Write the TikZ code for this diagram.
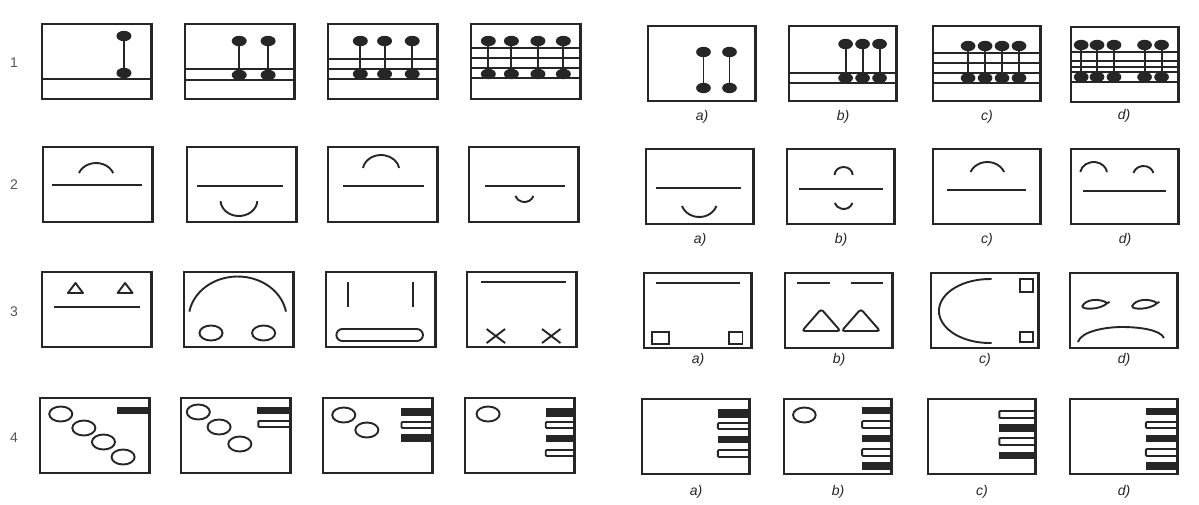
\documentclass[tikz,border=0pt]{standalone}
\usepackage{fontspec}
\setmainfont{Liberation Sans}
\definecolor{ink}{HTML}{262626}
\definecolor{numc}{HTML}{555555}
\tikzset{
  boxline/.style={draw=ink, line width=2.3pt},
  inl/.style={draw=ink, line width=1.9pt},
  lab/.style={font=\fontsize{14}{16}\selectfont\itshape, text=ink, inner sep=0pt},
  rownum/.style={font=\fontsize{14}{16}\selectfont, text=numc, inner sep=0pt},
  boxL/.style={x=1.154pt},
  boxR/.style={x=1.132pt},
}
\newcommand\frm{\draw[boxline] (0,0) rectangle (95,75);}
\newcommand\fullline[1]{\draw[inl] (0,#1) -- (95,#1);}
\newcommand\pinstem[3]{\draw[inl] (#1,#2) -- (#1,#3);
  \fill[ink] (#1,#2) ellipse[x radius=6.5, y radius=5.2];
  \fill[ink] (#1,#3) ellipse[x radius=6.5, y radius=5.2];}
\newcommand\arcat[5]{\draw[inl] ([shift={(#1,#2)}]#4:#3) arc[start angle=#4, end angle=#5, radius=#3];}
\newcommand\fbar[3]{\fill[ink] (#1,#2) rectangle (95,#3);}
\newcommand\ebar[3]{\draw[inl, rounded corners=1pt] (95,#2) -- (#1,#2) -- (#1,#3) -- (95,#3);}
\newcommand\ringat[2]{\draw[inl] (#1,#2) ellipse[x radius=10, y radius=7.5];}
\begin{document}
\begin{tikzpicture}[x=1pt,y=-1pt]
\useasboundingbox (0,0) rectangle (1199,504);
\fill[white] (0,0) rectangle (1199,504);

% row numbers
\node[rownum] (n1) at (14,63) {1};
\node[rownum] (n2) at (14,185) {2};
\node[rownum] (n3) at (14,312) {3};
\node[rownum] (n4) at (14,438) {4};

% ---------- ROW 1 ----------
\begin{scope}[shift={(42,24)},boxL]
 \fullline{55}
 \pinstem{71}{12}{49}
 \frm
\end{scope}
\begin{scope}[shift={(185,24)},boxL]
 \fullline{45}\fullline{56}
 \pinstem{47}{17}{51}\pinstem{72}{17}{51}
 \frm
\end{scope}
\begin{scope}[shift={(328,24)},boxL]
 \fullline{35}\fullline{45}\fullline{55}
 \pinstem{28}{17}{50}\pinstem{49}{17}{50}\pinstem{73}{17}{50}
 \frm
\end{scope}
\begin{scope}[shift={(471,24)},boxL]
 \fullline{24}\fullline{34}\fullline{44}\fullline{54}
 \pinstem{15}{17}{50}\pinstem{35}{17}{50}\pinstem{58}{17}{50}\pinstem{80}{17}{50}
 \frm
\end{scope}
\begin{scope}[shift={(648,26)},boxR]
 \pinstem{49}{26}{62}\pinstem{72}{26}{62}
 \frm
\end{scope}
\begin{scope}[shift={(789,26)},boxR]
 \fullline{47}\fullline{57}
 \pinstem{50}{18}{52}\pinstem{65}{18}{52}\pinstem{80}{18}{52}
 \frm
\end{scope}
\begin{scope}[shift={(933,26)},boxR]
 \fullline{27}\fullline{37}\fullline{47}\fullline{57}
 \pinstem{31}{20}{52}\pinstem{46}{20}{52}\pinstem{61}{20}{52}\pinstem{76}{20}{52}
 \frm
\end{scope}
\begin{scope}[shift={(1071,27)},boxR]
 \fullline{25}\fullline{34}\fullline{40}\fullline{45}\fullline{55}
 \pinstem{9}{18}{50}\pinstem{23}{18}{50}\pinstem{38}{18}{50}\pinstem{65}{18}{50}\pinstem{80}{18}{50}
 \frm
\end{scope}
\node[lab] (la1) at (702,117) {a)};
\node[lab] (lb1) at (843,117) {b)};
\node[lab] (lc1) at (987,117) {c)};
\node[lab] (ld1) at (1124,116) {d)};

% ---------- ROW 2 ----------
\begin{scope}[shift={(43,147)},boxL]
 \draw[inl] (8,38) -- (86,38);
 \arcat{46}{32}{16}{202}{338}
 \frm
\end{scope}
\begin{scope}[shift={(187,147)},boxL]
 \draw[inl] (9,39) -- (83,39);
 \arcat{45}{53}{16}{4}{176}
 \frm
\end{scope}
\begin{scope}[shift={(328,147)},boxL]
 \draw[inl] (13,39) -- (83,39);
 \arcat{46}{24}{16}{191}{349}
 \frm
\end{scope}
\begin{scope}[shift={(469,147)},boxL]
 \draw[inl] (14,39) -- (83,39);
 \arcat{48}{47}{8}{14}{166}
 \frm
\end{scope}
\begin{scope}[shift={(646,149)},boxR]
 \draw[inl] (9,39) -- (84,39);
 \arcat{47}{52}{16}{18}{162}
 \frm
\end{scope}
\begin{scope}[shift={(787,149)},boxR]
 \draw[inl] (11,40) -- (85,40);
 \arcat{50}{26}{8}{180}{360}
 \arcat{50}{52}{8}{14}{166}
 \frm
\end{scope}
\begin{scope}[shift={(933,149)},boxR]
 \draw[inl] (12,41) -- (82,41);
 \arcat{48}{29}{16}{202}{338}
 \frm
\end{scope}
\begin{scope}[shift={(1071,149)},boxR]
 \draw[inl] (11,42) -- (84,42);
 \arcat{20}{25}{12}{190}{350}
 \arcat{64}{26}{9}{193}{347}
 \frm
\end{scope}
\node[lab] (la2) at (700,240) {a)};
\node[lab] (lb2) at (841,240) {b)};
\node[lab] (lc2) at (987,240) {c)};
\node[lab] (ld2) at (1125,240) {d)};

% ---------- ROW 3 ----------
\begin{scope}[shift={(42,272)},boxL]
 \draw[inl] (10,35) -- (85,35);
 \draw[inl, line join=round] (22.5,21) -- (29,11) -- (35.5,21) -- cycle;
 \draw[inl, line join=round] (65.5,21) -- (72,11) -- (78.5,21) -- cycle;
 \frm
\end{scope}
\begin{scope}[shift={(184,272)},boxL]
 \arcat{46.5}{47}{42.5}{190}{350}
 \ringat{23.4}{61}\ringat{69}{61}
 \frm
\end{scope}
\begin{scope}[shift={(326,272)},boxL]
 \draw[inl] (19,10) -- (19,35);
 \draw[inl] (75,10) -- (75,35);
 \draw[inl, rounded corners=6pt] (9,57) rectangle (84,69);
 \frm
\end{scope}
\begin{scope}[shift={(467,272)},boxL]
 \draw[inl] (12,10) -- (86,10);
 \draw[inl] (17,57) -- (33,71) (17,71) -- (33,57);
 \draw[inl] (65,57) -- (81,71) (65,71) -- (81,57);
 \frm
\end{scope}
\begin{scope}[shift={(644,273)},boxR]
 \draw[inl] (11,10) -- (85,10);
 \draw[inl] (7,59) rectangle (22,71);
 \draw[inl] (75,59) rectangle (87,71);
 \frm
\end{scope}
\begin{scope}[shift={(785,273)},boxR]
 \draw[inl] (11,10) -- (40,10);
 \draw[inl] (58,10) -- (87,10);
 \draw[inl, rounded corners=3pt] (15,58) -- (32,36) -- (49,58) -- cycle;
 \draw[inl, rounded corners=3pt] (50,58) -- (67,36) -- (84,58) -- cycle;
 \frm
\end{scope}
\begin{scope}[shift={(931,273)},boxR]
 \draw[inl] ([shift={(52,38)}]272:45 and 32) arc[start angle=272, end angle=88, x radius=45, y radius=32];
 \draw[inl] (79,6) rectangle (90,19);
 \draw[inl] (79,59) rectangle (90,69);
 \frm
\end{scope}
\begin{scope}[shift={(1070,273)},boxR]
 \draw[inl] (33,30) .. controls (26,25) and (14,26) .. (11,33) .. controls (10,37) and (27,37) .. (33,30) -- (35,29);
 \draw[inl] (77,30) .. controls (70,25) and (58,26) .. (55,33) .. controls (54,37) and (71,37) .. (77,30) -- (79,29);
 \draw[inl] (7,69) .. controls (10,58) and (32,54) .. (46,54) .. controls (62,54) and (80,57) .. (83,65);
 \frm
\end{scope}
\node[lab] (la3) at (698,360) {a)};
\node[lab] (lb3) at (839,360) {b)};
\node[lab] (lc3) at (985,360) {c)};
\node[lab] (ld3) at (1124,360) {d)};

% ---------- ROW 4 ----------
\begin{scope}[shift={(40,398)},boxL]
 \fbar{67}{9}{16}
 \ringat{18}{16}\ringat{38}{30}\ringat{55}{44}\ringat{72}{59}
 \frm
\end{scope}
\begin{scope}[shift={(181,398)},boxL]
 \fbar{66}{9}{16}\ebar{67}{23}{29}
 \ringat{15}{14}\ringat{33}{29}\ringat{51}{46}
 \frm
\end{scope}
\begin{scope}[shift={(323,398)},boxL]
 \fbar{68}{10}{18}\ebar{68}{24}{30}\fbar{68}{36}{44}
 \ringat{18}{17}\ringat{38}{32}
 \frm
\end{scope}
\begin{scope}[shift={(465,398)},boxL]
 \fbar{70}{10}{19}\ebar{70}{24}{30}\fbar{70}{37}{44}\ebar{70}{52}{58}
 \ringat{20}{16}
 \frm
\end{scope}
\begin{scope}[shift={(642,399)},boxR]
 \fbar{67}{10}{19}\ebar{67}{24}{30}\fbar{67}{37}{44}\ebar{67}{51}{58}
 \frm
\end{scope}
\begin{scope}[shift={(784,399)},boxR]
 \fbar{69}{8}{15}\ebar{69}{22}{29}\fbar{69}{36}{43}\ebar{69}{50}{57}\fbar{69}{63}{71}
 \ringat{18}{16}
 \frm
\end{scope}
\begin{scope}[shift={(928,399)},boxR]
 \ebar{63}{12}{19}\fbar{63}{25}{33}\ebar{63}{39}{46}\fbar{63}{53}{60}
 \frm
\end{scope}
\begin{scope}[shift={(1070,399)},boxR]
 \fbar{67}{9}{16}\ebar{67}{23}{29}\fbar{67}{36}{43}\ebar{67}{50}{57}\fbar{67}{63}{71}
 \frm
\end{scope}
\node[lab] (la4) at (696,492) {a)};
\node[lab] (lb4) at (838,492) {b)};
\node[lab] (lc4) at (982,492) {c)};
\node[lab] (ld4) at (1124,492) {d)};
\end{tikzpicture}
\end{document}
